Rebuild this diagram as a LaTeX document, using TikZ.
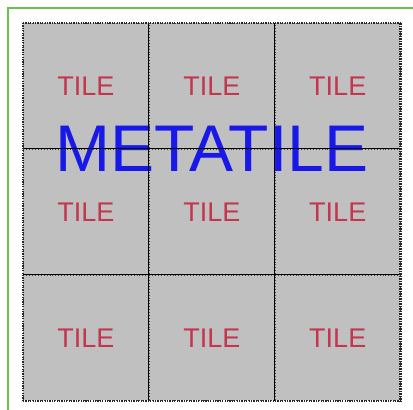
\documentclass[tikz,border=0pt]{standalone}
\usepackage{fontspec}
\setmainfont{Liberation Sans}
\usetikzlibrary{positioning}
\definecolor{tilegray}{HTML}{C0C0C0}
\definecolor{tilered}{HTML}{C4354E}
\definecolor{metablue}{HTML}{1818E8}
\definecolor{framegreen}{HTML}{6CBF4A}

\begin{document}
\begin{tikzpicture}[
    x=1pt, y=-1pt,
    node distance=0pt,
    tile/.style={draw=black!75, dotted, line width=0.9pt, fill=tilegray, rectangle,
                 minimum width=125pt, minimum height=125pt, inner sep=0pt,
                 text=tilered, font=\fontsize{27}{27}\selectfont},
    metatext/.style={text=metablue, inner sep=0pt, font=\fontsize{66}{66}\selectfont},
    gridline/.style={black, line width=1.1pt},
    edge/.style={black!85, line width=1.6pt, dash pattern=on 1.2pt off 1.2pt},
    frame/.style={framegreen, line width=1.3pt}
]
\useasboundingbox (0,0) rectangle (413,410);
\draw[frame] (8,410) -- (8,8) -- (413,8);

\node[tile, anchor=north west] (t11) at (23,23) {TILE};
\node[tile, right=of t11] (t12) {TILE};
\node[tile, right=of t12] (t13) {TILE};
\node[tile, below=of t11] (t21) {TILE};
\node[tile, right=of t21] (t22) {TILE};
\node[tile, right=of t22] (t23) {TILE};
\node[tile, below=of t21] (t31) {TILE};
\node[tile, right=of t31] (t32) {TILE};
\node[tile, right=of t32] (t33) {TILE};

\node[metatext] (meta) at (t12.south) {METATILE};

% grid lines between the tiles
\draw[gridline] (t11.north east) -- (t31.south east);
\draw[gridline] (t12.north east) -- (t32.south east);
\draw[gridline] (t11.south west) -- (t13.south east);
\draw[gridline] (t21.south west) -- (t23.south east);

% outer border of the metatile
\draw[edge] (t11.north west) -- (t13.north east);
\draw[edge] (t11.north west) -- (t31.south west);
\draw[edge] (t31.south west) -- (t33.south east);
\draw[edge, line width=3pt, dash pattern=on 1.5pt off 1pt] (t13.north east) -- (t33.south east);
\end{tikzpicture}
\end{document}
